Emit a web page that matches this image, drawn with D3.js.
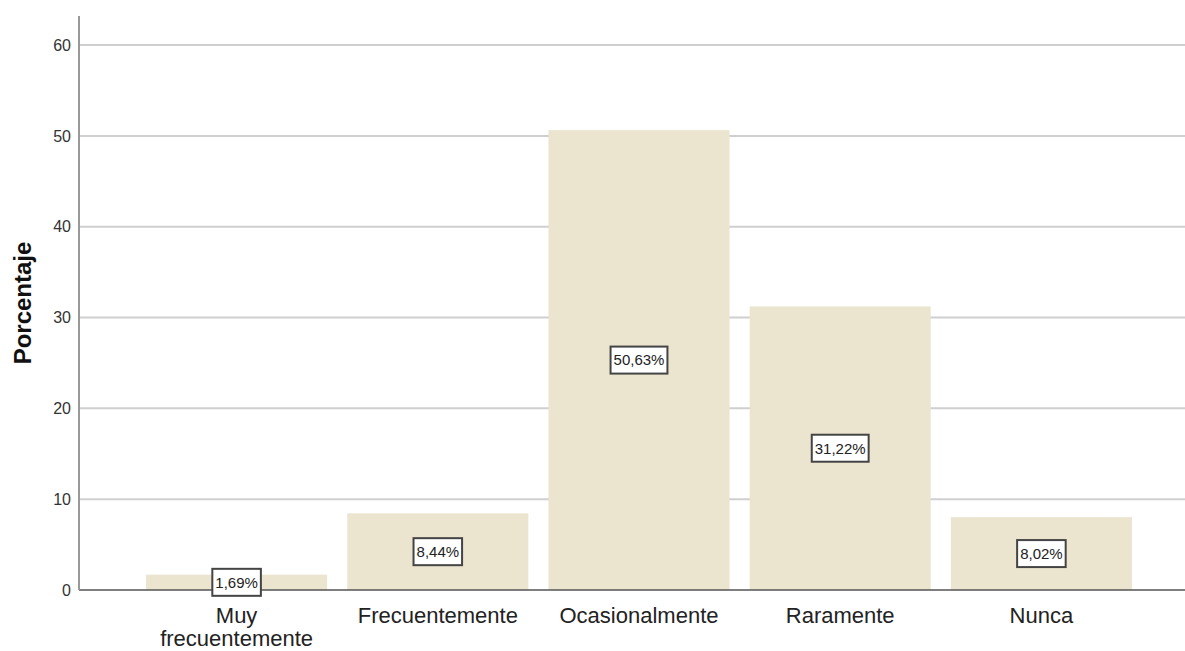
<!DOCTYPE html>
<html><head><meta charset="utf-8">
<script src="https://cdn.jsdelivr.net/npm/d3@7"></script>
<style>body{margin:0;background:#fff;} text{font-family:"Liberation Sans",Arial,sans-serif;}</style>
</head><body>
<svg id="c" width="1185" height="651"></svg>
<script>
const categories = [["Muy","frecuentemente"],["Frecuentemente"],["Ocasionalmente"],["Raramente"],["Nunca"]];
const values = [1.69, 8.44, 50.63, 31.22, 8.02];
const valueLabels = ["1,69%","8,44%","50,63%","31,22%","8,02%"];
const yTicks = [0,10,20,30,40,50,60];
const yTitle = "Porcentaje";

const svg = d3.select("#c");
const x = d3.scaleBand().domain(d3.range(values.length)).range([136,1142]).paddingInner(0.1).paddingOuter(0.05);
const y = d3.scaleLinear().domain([0,63.2]).range([590,16]);

// gridlines
svg.append("g").selectAll("line").data(yTicks.filter(d=>d>0)).join("line")
  .attr("x1",80).attr("x2",1185).attr("y1",d=>y(d)).attr("y2",d=>y(d))
  .attr("stroke","#cfcfcf").attr("stroke-width",2);

// bars
svg.append("g").selectAll("rect").data(values).join("rect")
  .attr("x",(d,i)=>x(i)).attr("width",x.bandwidth())
  .attr("y",d=>y(d)).attr("height",d=>y(0)-y(d))
  .attr("fill","#ebe4cf");

// x axis line
svg.append("line").attr("x1",79).attr("x2",1185).attr("y1",y(0)).attr("y2",y(0))
  .attr("stroke","#555").attr("stroke-width",1.5);
// y axis
const yAxis = svg.append("g").attr("transform","translate(79,0)")
  .call(d3.axisLeft(y).tickValues(yTicks).tickSize(0).tickPadding(8));
yAxis.select(".domain").remove();
yAxis.append("line").attr("x1",0).attr("x2",0).attr("y1",16).attr("y2",y(0)).attr("stroke","#999").attr("stroke-width",2);
yAxis.selectAll("text").attr("font-size",16).attr("fill","#333").style("font-family","'Liberation Sans',Arial,sans-serif");

// y title
svg.append("text").attr("transform","translate(31,303) rotate(-90)")
  .attr("text-anchor","middle").attr("font-size",24).attr("font-weight","bold").attr("fill","#111").text(yTitle);

// category labels
const cg = svg.append("g").selectAll("text").data(categories).join("text")
  .attr("text-anchor","middle").attr("font-size",22).attr("fill","#222");
cg.each(function(lines,i){
  d3.select(this).selectAll("tspan").data(lines).join("tspan")
    .attr("x",x(i)+x.bandwidth()/2).attr("y",(d,j)=>623+j*23).text(d=>d);
});

// value labels
const lg = svg.append("g").selectAll("g").data(values).join("g")
  .attr("transform",(d,i)=>`translate(${x(i)+x.bandwidth()/2},${y(d/2)})`);
lg.append("text").attr("text-anchor","middle").attr("dy","0.36em").attr("font-size",15).attr("fill","#222")
  .text((d,i)=>valueLabels[i]);
lg.each(function(){
  const g=d3.select(this); const b=g.select("text").node().getBBox();
  g.insert("rect","text").attr("x",b.x-3).attr("y",-13.5).attr("width",b.width+6).attr("height",27)
    .attr("fill","#fff").attr("stroke","#444").attr("stroke-width",2);
});
</script>
</body></html>
